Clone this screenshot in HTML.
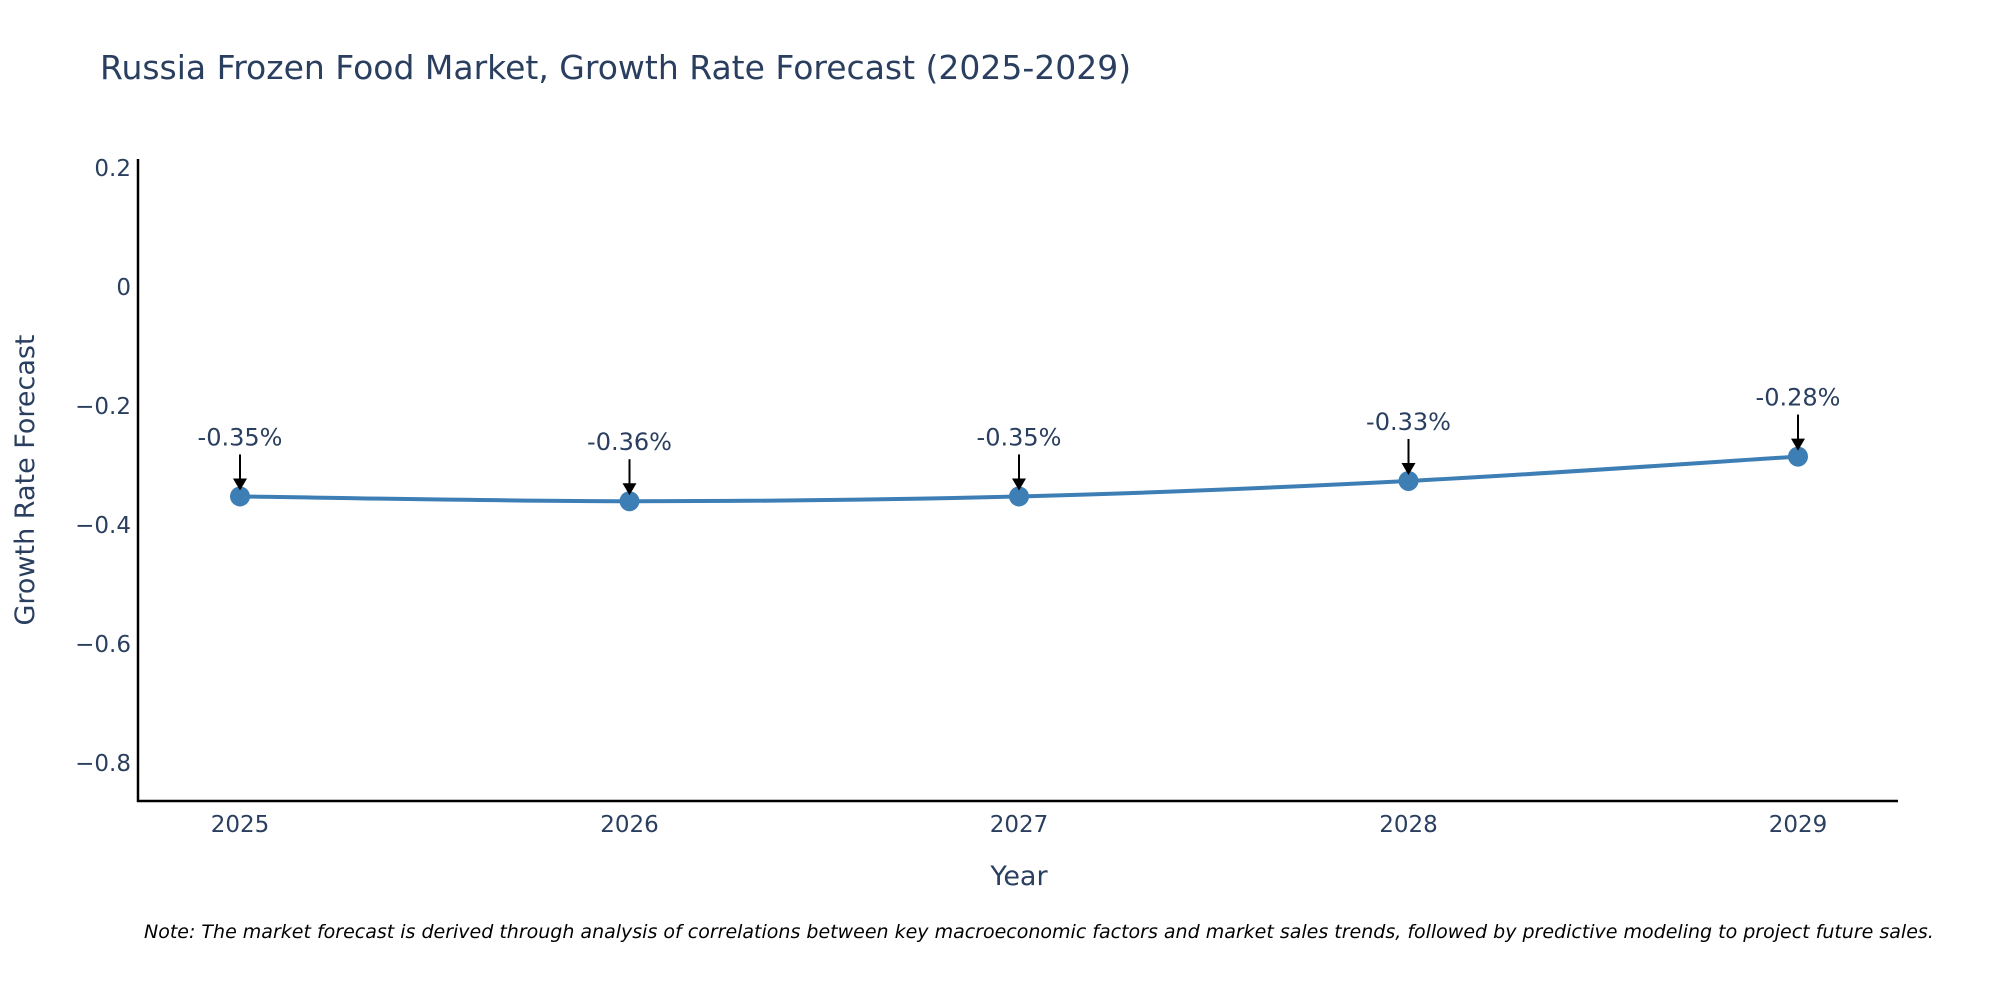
<!DOCTYPE html>
<html><head><meta charset="utf-8"><style>
html,body{margin:0;padding:0;background:#fff;overflow:hidden;}
svg{display:block;font-family:"DejaVu Sans","Liberation Sans",sans-serif;}
</style></head><body>
<svg id="chart" width="2000" height="1000" viewBox="0 0 2000 1000">
<text x="100" y="79" font-size="33" fill="#2a3f5f">Russia Frozen Food Market, Growth Rate Forecast (2025-2029)</text>
<g id="yticks"></g>
<g id="xticks"></g>
<line x1="138" y1="159" x2="138" y2="802" stroke="#000" stroke-width="2.5"/>
<line x1="137" y1="801" x2="1898" y2="801" stroke="#000" stroke-width="2.5"/>
<text transform="translate(34,480) rotate(-90)" text-anchor="middle" font-size="27" fill="#2a3f5f">Growth Rate Forecast</text>
<text x="1019" y="885" text-anchor="middle" font-size="27" fill="#2a3f5f">Year</text>
<g id="series"></g>
<g id="annots"></g>
<text x="144" y="938" font-size="19" font-style="italic" fill="#000">Note: The market forecast is derived through analysis of correlations between key macroeconomic factors and market sales trends, followed by predictive modeling to project future sales.</text>
</svg>
<script>
const years = [2025, 2026, 2027, 2028, 2029];
const growth = [-0.352, -0.36, -0.352, -0.326, -0.285];
const labels = ["-0.35%", "-0.36%", "-0.35%", "-0.33%", "-0.28%"];
const yTicks = [0.2, 0, -0.2, -0.4, -0.6, -0.8];
const yTickLabels = ["0.2", "0", "\u22120.2", "\u22120.4", "\u22120.6", "\u22120.8"];

const NS = "http://www.w3.org/2000/svg";
function xScale(yr){ return 240 + (yr - 2025) * 389.5; }
function yScale(v){ return 287 - v / 0.2 * 119; }
function mk(tag, attrs, parent){ const e = document.createElementNS(NS, tag); for (const k in attrs) e.setAttribute(k, attrs[k]); parent.appendChild(e); return e; }

const yt = document.getElementById('yticks');
yTicks.forEach((v, i) => {
  const t = mk('text', {x: 131, y: yScale(v) + 8, 'text-anchor': 'end', 'font-size': 23, fill: '#2a3f5f'}, yt);
  
  
  t.textContent = yTickLabels[i];
});
const xt = document.getElementById('xticks');
years.forEach(yr => {
  const t = mk('text', {x: xScale(yr), y: 832, 'text-anchor': 'middle', 'font-size': 23, fill: '#2a3f5f'}, xt);
  
  
  t.textContent = String(yr);
});

const pts = years.map((yr, i) => [xScale(yr), yScale(growth[i])]);
let d = `M${pts[0][0]},${pts[0][1]}`;
for (let i = 0; i < pts.length - 1; i++) {
  const p0 = pts[Math.max(0, i - 1)], p1 = pts[i], p2 = pts[i + 1], p3 = pts[Math.min(pts.length - 1, i + 2)];
  const c1x = p1[0] + (p2[0] - p0[0]) / 6, c1y = p1[1] + (p2[1] - p0[1]) / 6;
  const c2x = p2[0] - (p3[0] - p1[0]) / 6, c2y = p2[1] - (p3[1] - p1[1]) / 6;
  d += ` C${c1x},${c1y} ${c2x},${c2y} ${p2[0]},${p2[1]}`;
}
const s = document.getElementById('series');
const line = mk('path', {d: d, fill: 'none', stroke: '#3d7eb5', 'stroke-width': 4}, s);


pts.forEach(p => {
  const c = mk('circle', {cx: p[0], cy: p[1], r: 10, fill: '#3d7eb5'}, s);
  
  
});

const a = document.getElementById('annots');
pts.forEach((p, i) => {
  const ln = mk('line', {x1: p[0], y1: p[1] - 42, x2: p[0], y2: p[1] - 14, stroke: '#000', 'stroke-width': 2}, a);
  
  
  const hd = mk('polygon', {points: `${p[0]-7},${p[1]-18} ${p[0]+7},${p[1]-18} ${p[0]},${p[1]-6}`, fill: '#000'}, a);
  
  
  const t = mk('text', {x: p[0], y: p[1] - 51, 'text-anchor': 'middle', 'font-size': 24, fill: '#2a3f5f'}, a);
  
  
  t.textContent = labels[i];
});
</script>
</body></html>
